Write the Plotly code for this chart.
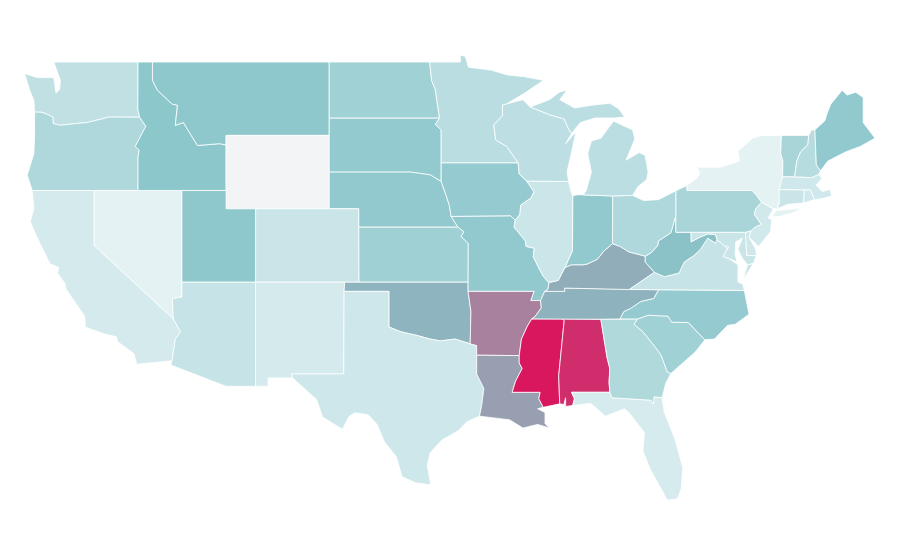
import plotly.graph_objects as go
from plotly.colors import sample_colorscale

# 各州取值，从图上估读（怀俄明无数据，单独上灰色）
states = ["AL", "AR", "AZ", "CA", "CO", "CT", "DC", "DE", "FL", "GA", "IA", "ID", "IL", "IN", "KS", "KY",
          "LA", "MA", "MD", "ME", "MI", "MN", "MO", "MS", "MT", "NC", "ND", "NE", "NH", "NJ", "NM", "NV",
          "NY", "OH", "OK", "OR", "PA", "RI", "SC", "SD", "TN", "TX", "UT", "VA", "VT", "WA", "WI", "WV"]
values = [93, 66, 15, 9, 14, 14, 9, 12, 8, 25, 37, 41, 13, 39, 33, 53,
          57, 11, 14, 39, 20, 21, 39, 100, 40, 37, 32, 39, 22, 10, 9, 2,
          2, 26, 50, 26, 28, 11, 32, 38, 51, 12, 40, 15, 28, 18, 19, 44]
no_data_states = ["WY"]

scale = [[0, "#e8f4f6"], [0.42, "#8ac6cb"], [0.52, "#8fb0bc"], [0.66, "#a8819e"], [1, "#d9175e"]]
no_data_color = "#f3f4f6"

# 州界：CDN 的 topojson 取不到，这里是手写的简化经纬度轮廓（近似底图，不是数据）
outlines = {
    "WA": [[(-124.73, 48.38), (-123.9, 48.15), (-122.75, 48.15), (-122.6, 47.3), (-122.35, 47.5), (-122.3, 48.0), (-122.75, 49), (-117.03, 49), (-117.04, 46.42), (-116.92, 45.99), (-118.98, 46), (-119.3, 45.93), (-120.5, 45.7), (-121.2, 45.65), (-122.3, 45.55), (-122.8, 45.65), (-122.8, 46), (-123.2, 46.15), (-123.55, 46.26), (-124.05, 46.27), (-124.1, 46.9), (-124.4, 47.5)]],
    "OR": [[(-124.05, 46.27), (-123.55, 46.26), (-123.2, 46.15), (-122.8, 46), (-122.8, 45.65), (-122.3, 45.55), (-121.2, 45.65), (-120.5, 45.7), (-119.3, 45.93), (-118.98, 46), (-116.92, 45.99), (-116.5, 45.5), (-116.85, 44.95), (-117.22, 44.4), (-116.95, 44.2), (-117.03, 43.8), (-117.03, 42), (-124.21, 42), (-124.55, 42.84), (-124.1, 44), (-124.05, 45)]],
    "CA": [[(-124.21, 42), (-120, 42), (-120, 39), (-114.63, 35), (-114.15, 34.3), (-114.5, 33.9), (-114.72, 32.72), (-117.12, 32.53), (-117.3, 33.1), (-118.4, 33.75), (-118.5, 34.03), (-119.2, 34.15), (-120.6, 34.55), (-120.65, 35.15), (-121.9, 36.6), (-122, 36.95), (-122.5, 37.5), (-122.4, 37.8), (-123, 38), (-123.8, 39.3), (-124.35, 40.3), (-124.1, 41)]],
    "NV": [[(-120, 42), (-114.05, 42), (-114.05, 36.2), (-114.7, 36.1), (-114.63, 35), (-120, 39)]],
    "ID": [[(-117.03, 49), (-116.05, 49), (-116.05, 48), (-115.7, 47.45), (-114.7, 46.7), (-114.35, 46.65), (-114.5, 45.55), (-113.95, 45.7), (-113.45, 45.05), (-113, 44.45), (-111.5, 44.55), (-111.05, 44.48), (-111.05, 42), (-117.03, 42), (-117.03, 43.8), (-116.95, 44.2), (-117.22, 44.4), (-116.85, 44.95), (-116.5, 45.5), (-116.92, 45.99), (-117.04, 46.42)]],
    "MT": [[(-116.05, 49), (-104.05, 49), (-104.05, 45), (-111.05, 45), (-111.05, 44.48), (-111.5, 44.55), (-113, 44.45), (-113.45, 45.05), (-113.95, 45.7), (-114.5, 45.55), (-114.35, 46.65), (-114.7, 46.7), (-115.7, 47.45), (-116.05, 48)]],
    "WY": [[(-111.05, 45), (-104.05, 45), (-104.05, 41), (-111.05, 41)]],
    "ND": [[(-104.05, 49), (-97.23, 49), (-97.1, 48), (-96.85, 47.5), (-96.56, 45.94), (-104.05, 45.94)]],
    "SD": [[(-104.05, 45.94), (-96.56, 45.94), (-96.85, 45.6), (-96.45, 45.3), (-96.45, 42.49), (-97.2, 42.85), (-98.5, 43), (-104.05, 43)]],
    "NE": [[(-104.05, 43), (-98.5, 43), (-97.2, 42.85), (-96.45, 42.49), (-96.1, 41.7), (-95.9, 41.2), (-95.77, 40.58), (-95.31, 40), (-102.05, 40), (-102.05, 41), (-104.05, 41)]],
    "KS": [[(-102.05, 40), (-95.31, 40), (-94.9, 39.75), (-95.1, 39.5), (-94.61, 39.11), (-94.62, 37), (-102.04, 37)]],
    "CO": [[(-109.05, 41), (-102.05, 41), (-102.04, 37), (-109.05, 37)]],
    "UT": [[(-111.05, 42), (-111.05, 41), (-109.05, 41), (-109.05, 37), (-114.05, 37), (-114.05, 42)]],
    "AZ": [[(-114.05, 37), (-109.05, 37), (-109.05, 31.33), (-111.07, 31.33), (-114.81, 32.49), (-114.72, 32.72), (-114.5, 33.9), (-114.15, 34.3), (-114.63, 35), (-114.7, 36.1), (-114.05, 36.2)]],
    "NM": [[(-109.05, 37), (-103, 37), (-103.04, 36.5), (-103.06, 32), (-106.62, 32), (-106.53, 31.78), (-108.2, 31.78), (-108.2, 31.33), (-109.05, 31.33)]],
    "OK": [[(-103, 37), (-94.62, 37), (-94.62, 36.5), (-94.43, 35.4), (-94.48, 33.64), (-95.5, 33.9), (-96.5, 33.8), (-97.2, 33.9), (-98.1, 34.1), (-99.2, 34.3), (-100, 34.56), (-100, 36.5), (-103.04, 36.5)]],
    "TX": [[(-103.04, 36.5), (-100, 36.5), (-100, 34.56), (-99.2, 34.3), (-98.1, 34.1), (-97.2, 33.9), (-96.5, 33.8), (-95.5, 33.9), (-94.48, 33.64), (-94.04, 33.55), (-94.04, 32), (-93.55, 31.2), (-93.7, 30.3), (-93.85, 29.7), (-94.7, 29.4), (-95.3, 28.9), (-96.4, 28.4), (-97.2, 27.7), (-97.4, 27), (-97.15, 25.96), (-98.2, 26.07), (-99.1, 26.4), (-99.5, 27.5), (-100.3, 28.3), (-100.8, 29.25), (-101.4, 29.77), (-102.3, 29.88), (-102.7, 29.7), (-103.15, 28.98), (-104.5, 29.65), (-104.9, 30.6), (-106.53, 31.78), (-106.62, 32), (-103.06, 32)]],
    "MN": [[(-97.23, 49), (-95.15, 49), (-95.15, 49.38), (-94.8, 49.3), (-94.6, 48.72), (-93, 48.55), (-92, 48.3), (-90.8, 48.2), (-89.5, 48), (-90.8, 47.3), (-92.02, 46.71), (-92.29, 46.66), (-92.29, 46.07), (-92.88, 45.57), (-92.75, 44.75), (-92, 44.4), (-91.22, 43.5), (-96.45, 43.5), (-96.45, 45.3), (-96.85, 45.6), (-96.56, 45.94), (-96.85, 47.5), (-97.1, 48)]],
    "IA": [[(-96.45, 43.5), (-91.22, 43.5), (-91.15, 42.9), (-90.64, 42.51), (-90.15, 41.93), (-90.34, 41.6), (-91.05, 41.2), (-91.1, 40.7), (-91.42, 40.38), (-91.73, 40.61), (-95.77, 40.58), (-95.9, 41.2), (-96.1, 41.7), (-96.45, 42.49)]],
    "MO": [[(-95.77, 40.58), (-91.73, 40.61), (-91.42, 40.38), (-91.5, 40), (-90.73, 39.25), (-90.68, 38.95), (-90.12, 38.85), (-90.2, 38.4), (-89.9, 37.9), (-89.5, 37.3), (-89.13, 36.98), (-89.2, 36.6), (-89.42, 36.5), (-89.7, 36), (-90.37, 36), (-90.15, 36.5), (-94.62, 36.5), (-94.62, 37), (-94.61, 39.11), (-95.1, 39.5), (-94.9, 39.75), (-95.31, 40)]],
    "AR": [[(-94.62, 36.5), (-90.15, 36.5), (-90.37, 36), (-89.7, 36), (-89.65, 35.6), (-90.1, 35.1), (-90.3, 35), (-90.6, 34.6), (-91, 33.9), (-91.15, 33), (-94.04, 33.02), (-94.04, 33.55), (-94.48, 33.64), (-94.43, 35.4)]],
    "LA": [[(-94.04, 33.02), (-91.15, 33), (-91.15, 32.6), (-90.95, 32.3), (-91.4, 31.6), (-91.63, 31), (-89.73, 31), (-89.82, 30.65), (-89.52, 30.18), (-89.9, 30.1), (-89.4, 29.9), (-89.4, 29.3), (-89.1, 29.05), (-89.9, 29.25), (-90.9, 29.05), (-91.8, 29.5), (-92.3, 29.55), (-93.85, 29.7), (-93.7, 30.3), (-93.55, 31.2), (-94.04, 32)]],
    "MS": [[(-90.3, 35), (-88.2, 35), (-88.1, 34.9), (-88.47, 31.9), (-88.4, 30.37), (-89.52, 30.18), (-89.82, 30.65), (-89.73, 31), (-91.63, 31), (-91.4, 31.6), (-90.95, 32.3), (-91.15, 32.6), (-91.15, 33), (-91, 33.9), (-90.6, 34.6)]],
    "AL": [[(-88.2, 35), (-85.61, 34.98), (-85.18, 32.87), (-85, 32.3), (-85.05, 31.55), (-85, 31), (-87.6, 31), (-87.4, 30.65), (-87.52, 30.28), (-88, 30.23), (-88, 30.7), (-88.13, 30.33), (-88.4, 30.37), (-88.47, 31.9), (-88.1, 34.9)]],
    "FL": [[(-87.6, 31), (-85, 31), (-84.86, 30.7), (-82.2, 30.57), (-82.05, 30.36), (-82, 30.75), (-81.45, 30.71), (-81.3, 29.9), (-80.6, 28.5), (-80.05, 26.9), (-80.15, 25.75), (-80.4, 25.2), (-81.1, 25.13), (-81.8, 26.1), (-82.25, 26.8), (-82.75, 27.8), (-82.65, 28.8), (-83.7, 29.9), (-84, 30.1), (-85.3, 29.7), (-86.3, 30.4), (-87.52, 30.28), (-87.4, 30.65)]],
    "GA": [[(-85.61, 34.98), (-83.11, 35), (-83.35, 34.7), (-82.75, 34.3), (-81.9, 33.45), (-81.5, 33), (-81.1, 32.1), (-80.85, 32.03), (-81.2, 31.5), (-81.45, 30.71), (-82, 30.75), (-82.05, 30.36), (-82.2, 30.57), (-84.86, 30.7), (-85, 31), (-85.05, 31.55), (-85, 32.3), (-85.18, 32.87)]],
    "SC": [[(-83.11, 35), (-82.4, 35.2), (-81.05, 35.15), (-80.8, 34.82), (-79.67, 34.8), (-78.55, 33.86), (-79.2, 33.2), (-79.9, 32.7), (-80.85, 32.03), (-81.1, 32.1), (-81.5, 33), (-81.9, 33.45), (-82.75, 34.3), (-83.35, 34.7)]],
    "NC": [[(-84.32, 35), (-83.11, 35), (-82.4, 35.2), (-81.05, 35.15), (-80.8, 34.82), (-79.67, 34.8), (-78.55, 33.86), (-77.9, 33.9), (-77, 34.65), (-76.5, 34.7), (-75.55, 35.25), (-75.75, 36.2), (-75.87, 36.55), (-81.68, 36.59), (-81.9, 36.3), (-82, 36.12), (-82.9, 35.95), (-83.6, 35.57), (-84.05, 35.4)]],
    "TN": [[(-90.3, 35), (-90.1, 35.1), (-89.65, 35.6), (-89.7, 36), (-89.42, 36.5), (-88.07, 36.5), (-88.07, 36.68), (-83.68, 36.6), (-81.68, 36.59), (-81.9, 36.3), (-82, 36.12), (-82.9, 35.95), (-83.6, 35.57), (-84.05, 35.4), (-84.32, 35), (-85.61, 34.98), (-88.2, 35)]],
    "KY": [[(-89.42, 36.5), (-89.2, 36.6), (-89.13, 36.98), (-88.5, 37.1), (-88.05, 37.8), (-87.6, 37.95), (-86.8, 37.95), (-86.5, 38), (-85.85, 38.25), (-85.4, 38.7), (-84.82, 39.1), (-84.3, 38.95), (-83.7, 38.65), (-82.59, 38.42), (-82.6, 38.1), (-81.97, 37.54), (-83.68, 36.6), (-88.07, 36.68), (-88.07, 36.5)]],
    "VA": [[(-83.68, 36.6), (-81.97, 37.54), (-81.3, 37.3), (-80.3, 37.5), (-79.95, 38.1), (-79.3, 38.45), (-78.87, 38.77), (-78.35, 39.4), (-77.83, 39.13), (-77.72, 39.32), (-77.12, 38.93), (-77.04, 38.79), (-77.3, 38.4), (-76.95, 38.3), (-76.3, 37.95), (-76.3, 37.5), (-76.3, 37), (-75.98, 36.9), (-75.87, 36.55), (-81.68, 36.59)],
           [(-75.65, 37.95), (-75.25, 38.03), (-75.95, 37.15)]],
    "WV": [[(-82.59, 38.42), (-82.2, 38.6), (-81.75, 39), (-81.7, 39.25), (-80.85, 39.7), (-80.52, 40.64), (-80.52, 39.72), (-79.48, 39.72), (-79.48, 39.2), (-78.9, 39.45), (-78.35, 39.63), (-77.83, 39.6), (-77.72, 39.32), (-77.83, 39.13), (-78.35, 39.4), (-78.87, 38.77), (-79.3, 38.45), (-79.95, 38.1), (-80.3, 37.5), (-81.3, 37.3), (-81.97, 37.54), (-82.6, 38.1)]],
    "MD": [[(-79.48, 39.72), (-75.79, 39.72), (-75.7, 38.46), (-75.05, 38.45), (-75.25, 38.03), (-75.65, 37.95), (-76, 38.3), (-76.3, 38.8), (-76, 39.4), (-76.45, 39.2), (-76.5, 38.5), (-76.35, 38.1), (-76.95, 38.3), (-77.3, 38.4), (-77.04, 38.79), (-77.12, 38.93), (-77.72, 39.32), (-77.83, 39.6), (-78.35, 39.63), (-78.9, 39.45), (-79.48, 39.2)]],
    "DC": [[(-77.12, 38.93), (-77.04, 39), (-76.91, 38.89), (-77.04, 38.79)]],
    "DE": [[(-75.79, 39.72), (-75.42, 39.8), (-75.55, 39.45), (-75.1, 38.8), (-75.05, 38.45), (-75.7, 38.46)]],
    "NJ": [[(-74.7, 41.36), (-73.9, 41), (-74.25, 40.5), (-74, 40.4), (-74.1, 39.75), (-74.9, 38.95), (-75.55, 39.45), (-75.42, 39.8), (-75.15, 40), (-74.73, 40.15), (-75.2, 40.7), (-75.1, 41)]],
    "PA": [[(-80.52, 41.98), (-79.76, 42.27), (-79.76, 42), (-75.35, 42), (-75.05, 41.75), (-74.7, 41.36), (-75.1, 41), (-75.2, 40.7), (-74.73, 40.15), (-75.15, 40), (-75.42, 39.8), (-75.79, 39.72), (-80.52, 39.72), (-80.52, 40.64)]],
    "NY": [[(-79.76, 42.27), (-79.05, 42.7), (-78.9, 42.9), (-79.05, 43.27), (-77.5, 43.27), (-76.5, 43.5), (-76.2, 43.6), (-76.3, 44.15), (-75.3, 44.85), (-74.7, 45), (-73.35, 45), (-73.4, 44), (-73.25, 43.6), (-73.27, 42.75), (-73.5, 42.05), (-73.5, 41.3), (-73.65, 41), (-73.9, 41), (-74.7, 41.36), (-75.05, 41.75), (-75.35, 42), (-79.76, 42)],
           [(-74, 40.6), (-73.7, 40.9), (-72.6, 40.98), (-71.9, 41.05), (-72.5, 40.8), (-73.5, 40.58)]],
    "VT": [[(-73.35, 45), (-71.5, 45), (-71.55, 44.5), (-72.05, 44.1), (-72.3, 43.6), (-72.46, 42.73), (-73.27, 42.75), (-73.25, 43.6), (-73.4, 44)]],
    "NH": [[(-71.5, 45), (-71.3, 45.3), (-71.08, 45.3), (-70.98, 43.4), (-70.7, 43.07), (-70.82, 42.87), (-71.3, 42.7), (-72.46, 42.73), (-72.3, 43.6), (-72.05, 44.1), (-71.55, 44.5)]],
    "ME": [[(-71.08, 45.3), (-70.4, 45.8), (-70.25, 46.2), (-70, 46.7), (-69.23, 47.46), (-68.9, 47.2), (-68.3, 47.35), (-67.8, 47.07), (-67.8, 45.7), (-67.45, 45.3), (-67, 44.85), (-68, 44.4), (-69, 44.1), (-70.2, 43.6), (-70.7, 43.07), (-70.98, 43.4)]],
    "MA": [[(-73.5, 42.05), (-73.27, 42.75), (-72.46, 42.73), (-71.3, 42.7), (-70.82, 42.87), (-70.6, 42.65), (-71, 42.3), (-70.6, 41.95), (-70.05, 42.05), (-69.95, 41.7), (-70.65, 41.55), (-71.12, 41.5), (-71.38, 42.02), (-71.8, 42.02)]],
    "RI": [[(-71.8, 42.02), (-71.38, 42.02), (-71.12, 41.5), (-71.85, 41.32)]],
    "CT": [[(-73.5, 42.05), (-71.8, 42.02), (-71.85, 41.32), (-72.9, 41.25), (-73.65, 41), (-73.5, 41.3)]],
    "OH": [[(-84.81, 41.7), (-83.45, 41.73), (-82.7, 41.45), (-81.7, 41.5), (-80.52, 41.98), (-80.52, 40.64), (-80.85, 39.7), (-81.7, 39.25), (-81.75, 39), (-82.2, 38.6), (-82.59, 38.42), (-83.7, 38.65), (-84.3, 38.95), (-84.82, 39.1)]],
    "IN": [[(-87.52, 41.71), (-87.2, 41.76), (-86.8, 41.76), (-84.81, 41.7), (-84.82, 39.1), (-85.4, 38.7), (-85.85, 38.25), (-86.5, 38), (-86.8, 37.95), (-87.6, 37.95), (-88.05, 37.8), (-87.55, 38.7), (-87.53, 39.35)]],
    "IL": [[(-90.64, 42.51), (-87.8, 42.49), (-87.6, 41.85), (-87.52, 41.71), (-87.53, 39.35), (-87.55, 38.7), (-88.05, 37.8), (-88.5, 37.1), (-89.13, 36.98), (-89.5, 37.3), (-89.9, 37.9), (-90.2, 38.4), (-90.12, 38.85), (-90.68, 38.95), (-90.73, 39.25), (-91.5, 40), (-91.42, 40.38), (-91.1, 40.7), (-91.05, 41.2), (-90.34, 41.6), (-90.15, 41.93)]],
    "WI": [[(-92.02, 46.71), (-90.9, 46.95), (-90.4, 46.55), (-89.1, 46.13), (-88.1, 45.9), (-87.8, 45.35), (-87.6, 45.1), (-88, 44.55), (-87.3, 45.2), (-87.5, 44.5), (-87.9, 43), (-87.8, 42.49), (-90.64, 42.51), (-91.15, 42.9), (-91.22, 43.5), (-92, 44.4), (-92.75, 44.75), (-92.88, 45.57), (-92.29, 46.07), (-92.29, 46.66)]],
    "MI": [[(-86.8, 41.76), (-84.81, 41.7), (-83.45, 41.73), (-83.1, 42.2), (-82.5, 42.6), (-82.4, 43), (-82.6, 43.9), (-83, 44.07), (-83.9, 43.65), (-83.3, 44.8), (-83.45, 45.3), (-84.75, 45.78), (-85.1, 45.4), (-85.6, 44.85), (-86.25, 44.7), (-86.5, 44), (-86.25, 43), (-86.6, 42)],
           [(-90.4, 46.55), (-89.1, 46.95), (-88.4, 47.37), (-87.9, 47.47), (-88.4, 46.95), (-87.4, 46.5), (-86.2, 46.65), (-85, 46.75), (-84.4, 46.45), (-84, 46), (-84.75, 45.95), (-86, 45.95), (-87, 45.7), (-87.6, 45.1), (-87.8, 45.35), (-88.1, 45.9), (-89.1, 46.13)]],
}


def rings_to_xy(rings):
    xs, ys = [], []
    for ring in rings:
        xs += [p[0] for p in ring] + [ring[0][0], None]
        ys += [p[1] for p in ring] + [ring[0][1], None]
    return xs, ys


fig = go.Figure()
colors = dict(zip(states, sample_colorscale(scale, [v / 100 for v in values])))
for s in no_data_states:
    colors[s] = no_data_color

for s, rings in outlines.items():
    xs, ys = rings_to_xy(rings)
    fig.add_trace(go.Scatter(x=xs, y=ys, name=s, mode="lines", fill="toself", fillcolor=colors[s],
                             line=dict(color="white", width=0.8), hoverinfo="name"))

# 页面 body 有 8px 边距，范围相应平移
fig.update_xaxes(visible=False, range=[-125.857, -64.757], fixedrange=True)
fig.update_yaxes(visible=False, range=[21.424, 51.944], fixedrange=True)
fig.update_layout(width=900, height=560, margin=dict(l=0, r=0, t=0, b=0), showlegend=False,
                  paper_bgcolor="white", plot_bgcolor="white")

fig.write_html("out.html")
